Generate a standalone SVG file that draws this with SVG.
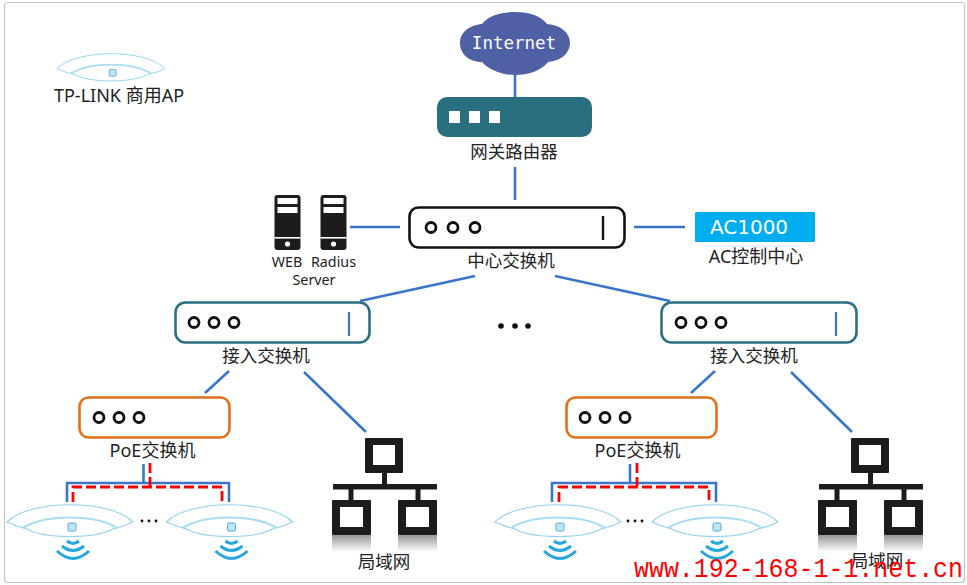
<svg xmlns="http://www.w3.org/2000/svg" width="967" height="585" viewBox="0 0 967 585">
<style>
.t{font-family:"Noto Sans","Noto Sans CJK SC",sans-serif;font-size:17.500px;fill:#222;text-anchor:middle}
.s{font-size:14.300px}
.c{fill:none;stroke:#3a75c8;stroke-width:2.6}
.r{fill:none;stroke:#f00;stroke-width:2.8;stroke-dasharray:10 4}
.d{fill:#fff;stroke:#111;stroke-width:2.8}
.box{fill:#fff;stroke-width:2.6}
.k{fill:#1c1c1c}
.w{fill:#fff}
.wifi{fill:none;stroke:#28a7dc;stroke-width:3}
.ap1{fill:#fff;stroke:#8fd2ee;stroke-width:1.1}
.ap2{fill:none;stroke:#a7dcf2;stroke-width:2.2}
</style>
<defs>
<g id="ap">
<path class="ap1" d="M-63 0C-40-23 40-23 63 0C55 4 50 5 43 7C25 17-25 17-43 7C-50 5-55 4-63 0Z"/>
<path class="ap2" d="M-47 6C-25-8 25-8 47 6"/>
<rect x="-2" y="1" width="8" height="8" rx="1.500" fill="#bfe6f6" stroke="#4aa9d8"/>
</g>
<g id="wifi">
<path class="wifi" d="M-6 1Q0 6 6 1"/>
<path class="wifi" d="M-11 6Q0 15 11 6"/>
<path class="wifi" d="M-16 11Q0 26 16 11"/>
</g>
<g id="srv">
<rect class="k" x="-13" y="0" width="26" height="55" rx="3"/>
<rect class="w" x="-10" y="3" width="20" height="6"/>
<rect class="w" x="-10" y="12" width="20" height="6"/>
<rect class="w" x="-13" y="42" width="26" height="1.600"/>
<circle class="w" cx="0" cy="49" r="2.600"/>
</g>
<g id="lan">
<rect class="k" x="0" y="0" width="38" height="35" rx="1"/>
<rect class="w" x="8" y="7" width="22" height="20"/>
<rect class="k" x="17" y="35" width="5" height="11"/>
<rect class="k" x="-32" y="46" width="104" height="5.500"/>
<rect class="k" x="-16.500" y="51" width="5" height="11"/>
<rect class="k" x="50.500" y="51" width="5" height="11"/>
<rect class="k" x="-33" y="62" width="39" height="35" rx="1"/>
<rect class="w" x="-25" y="69" width="23" height="20"/>
<rect class="k" x="33" y="62" width="39" height="35" rx="1"/>
<rect class="w" x="41" y="69" width="23" height="20"/>
<rect x="-33" y="97" width="39" height="17" fill="url(#fade)"/>
<rect x="33" y="97" width="39" height="17" fill="url(#fade)"/>
</g>
<linearGradient id="fade" x1="0" y1="0" x2="0" y2="1"><stop offset="0" stop-color="#999"/><stop offset="1" stop-color="#fff"/></linearGradient>
</defs>
<rect width="967" height="585" fill="#fff"/>
<rect x="4.500" y="2.500" width="960" height="580" rx="3" fill="none" stroke="#c4c4c4" stroke-width="1.200"/>

<g id="connectors">
<path class="c" d="M515 72V97M515 167V200M350 227H400M634 227H685M475 276L360 301M555 276L670 301M229 371L205 393M304 372L366 432M715 371L691 393M791 372L852 432"/>
<path class="c" d="M67 502V483H229V502M143.500 464V483"/>
<path class="r" d="M73 502V487H222V502M150 463V486"/>
<path class="c" d="M552 502V483H716V502M630 464V483"/>
<path class="r" d="M559 502V487H709V502M637 463V486"/>
</g>

<g id="internet">
<path d="M482 62C468 62 460 53 460 43C460 32 470 25 482 24C489 15 502 12 515 12C530 12 541 16 547 24C561 25 570 33 570 43C570 53 561 61 548 62C541 71 528 75 515 75C502 75 489 70 482 62Z" fill="#4f60a5"/>
<text x="514" y="49" font-family="'DejaVu Sans Mono',monospace" font-size="17.500" fill="#fff" text-anchor="middle">Internet</text>
</g>

<g id="router">
<rect x="437" y="97" width="155" height="40" rx="10" fill="#296f80"/>
<rect class="w" x="449" y="111" width="11" height="12"/><rect class="w" x="469" y="111" width="11" height="12"/><rect class="w" x="489" y="111" width="11" height="12"/>
<text class="t" x="514" y="158">网关路由器</text>
</g>

<g id="core-switch">
<rect class="box" x="409.500" y="207.500" width="215" height="40" rx="9" stroke="#111"/>
<circle class="d" cx="431" cy="227.500" r="5"/><circle class="d" cx="453" cy="227.500" r="5"/><circle class="d" cx="475" cy="227.500" r="5"/>
<path d="M603 216V240" stroke="#111" stroke-width="2.400"/>
<text class="t" x="511" y="267">中心交换机</text>
</g>

<g id="servers">
<use href="#srv" x="287.500" y="195"/>
<use href="#srv" x="333.500" y="195"/>
<text class="t s" x="287" y="267">WEB</text>
<text class="t s" x="333.500" y="267">Radius</text>
<text class="t s" x="314" y="285">Server</text>
</g>

<g id="ac">
<rect x="695" y="212" width="120" height="30" rx="1.500" fill="#00adef"/>
<text x="749" y="234" font-family="'DejaVu Sans',sans-serif" font-size="20" fill="#fff" text-anchor="middle">AC1000</text>
<text class="t" style="font-size:18px" x="756" y="263">AC控制中心</text>
</g>

<g id="legend">
<use href="#ap" transform="translate(111 68.500) scale(.857)"/>
<text class="t" style="font-size:18px" x="119" y="102">TP-LINK 商用AP</text>
</g>

<g id="access-left">
<rect class="box" x="175.500" y="302.500" width="194" height="40" rx="10" stroke="#2b7180"/>
<circle class="d" cx="194" cy="322.500" r="5"/><circle class="d" cx="214" cy="322.500" r="5"/><circle class="d" cx="234" cy="322.500" r="5"/>
<path d="M349 312V336" stroke="#3a75c8" stroke-width="2.200"/>
<text class="t" x="266" y="362">接入交换机</text>
</g>

<g id="access-right">
<rect class="box" x="661.500" y="302.500" width="195" height="40" rx="10" stroke="#2b7180"/>
<circle class="d" cx="681" cy="322.500" r="5"/><circle class="d" cx="701" cy="322.500" r="5"/><circle class="d" cx="721" cy="322.500" r="5"/>
<path d="M836 312V336" stroke="#3a75c8" stroke-width="2.200"/>
<text class="t" x="754" y="362">接入交换机</text>
</g>

<g id="dots">
<circle cx="501" cy="326" r="2.800" fill="#111"/><circle cx="515" cy="326" r="2.800" fill="#111"/><circle cx="528" cy="326" r="2.800" fill="#111"/>
</g>

<g id="poe-left">
<rect class="box" x="79.500" y="397.500" width="150" height="40" rx="9" stroke="#e0701a"/>
<circle class="d" cx="99" cy="417.500" r="5"/><circle class="d" cx="119" cy="417.500" r="5"/><circle class="d" cx="139" cy="417.500" r="5"/>
<text class="t" style="font-size:18px" x="152.500" y="457">PoE交换机</text>
</g>

<g id="poe-right">
<rect class="box" x="566.500" y="397.500" width="150" height="40" rx="9" stroke="#e0701a"/>
<circle class="d" cx="585" cy="417.500" r="5"/><circle class="d" cx="605" cy="417.500" r="5"/><circle class="d" cx="625" cy="417.500" r="5"/>
<text class="t" style="font-size:18px" x="637.500" y="457">PoE交换机</text>
</g>

<g id="lan-left">
<use href="#lan" x="365" y="438"/>
<text class="t" x="384" y="568">局域网</text>
</g>
<g id="lan-right">
<use href="#lan" x="851" y="438"/>
<text class="t" x="877" y="567">局域网</text>
</g>

<g id="ap-left-1"><use href="#ap" x="70" y="522"/><use href="#wifi" x="73" y="540"/></g>
<g id="ap-left-2"><use href="#ap" x="229.500" y="522"/><use href="#wifi" x="231.500" y="540"/></g>
<g id="ap-right-1"><use href="#ap" x="558" y="522"/><use href="#wifi" x="560" y="540"/></g>
<g id="ap-right-2"><use href="#ap" x="715" y="522"/><use href="#wifi" x="717" y="540"/></g>

<g id="ap-dots" fill="#111">
<circle cx="142" cy="521" r="1.400"/><circle cx="149" cy="521" r="1.400"/><circle cx="156" cy="521" r="1.400"/>
<circle cx="628" cy="521" r="1.400"/><circle cx="635" cy="521" r="1.400"/><circle cx="642" cy="521" r="1.400"/>
</g>

<text id="watermark" x="634" y="577" font-family="'Liberation Mono',monospace" font-size="28" textLength="329" lengthAdjust="spacingAndGlyphs" fill="#f00">www.192-168-1-1.net.cn</text>
</svg>
